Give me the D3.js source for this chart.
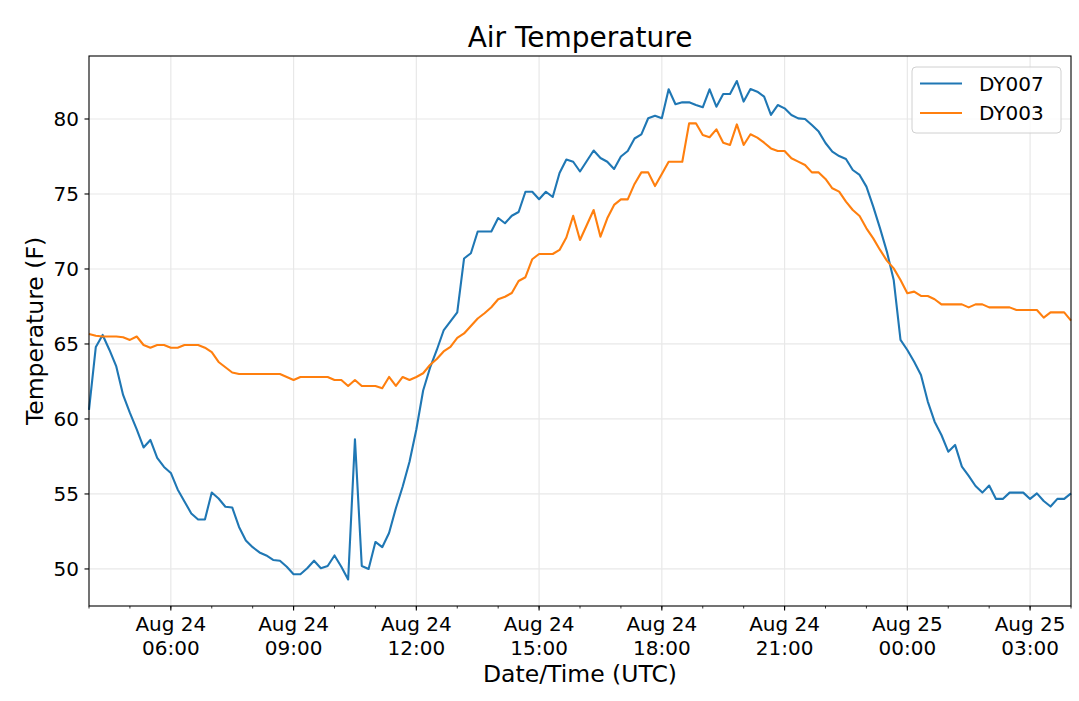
<!DOCTYPE html>
<html>
<head>
<meta charset="utf-8">
<script src="https://cdnjs.cloudflare.com/ajax/libs/d3/7.8.5/d3.min.js"></script>
<style>
  body { margin: 0; background: #fff; }
  svg { display: block; font-family: "DejaVu Sans", sans-serif; }
</style>
</head>
<body>
<svg id="chart" width="1079" height="701"></svg>
<script>
// readings every 10 minutes, starting Aug 24 04:00 UTC
const startTime = new Date(Date.UTC(2019, 7, 24, 4, 0));
const stepMinutes = 10;

const dy007 = [
  60.6, 64.8, 65.6, 64.6, 63.5, 61.6, 60.4, 59.3, 58.1, 58.6,
  57.4, 56.8, 56.4, 55.3, 54.5, 53.7, 53.3, 53.3, 55.1, 54.7,
  54.15, 54.1, 52.8, 51.9, 51.45, 51.1, 50.9, 50.6, 50.55, 50.15,
  49.65, 49.65, 50.05, 50.55, 50.05, 50.2, 50.9, 50.15, 49.3, 58.65,
  50.2, 50.0, 51.8, 51.45, 52.4, 54.05, 55.5, 57.15, 59.3, 61.9,
  63.4, 64.6, 65.9, 66.5, 67.1, 70.7, 71.05, 72.5, 72.5, 72.5,
  73.4, 73.05, 73.55, 73.8, 75.15, 75.15, 74.65, 75.15, 74.8, 76.4,
  77.3, 77.15, 76.5, 77.2, 77.9, 77.4, 77.15, 76.67, 77.5, 77.87,
  78.7, 78.98, 80.05, 80.22, 80.05, 81.98, 80.98, 81.11, 81.11, 80.93,
  80.78, 81.98, 80.82, 81.67, 81.67, 82.53, 81.16, 82.0, 81.82, 81.49,
  80.27, 80.93, 80.71, 80.27, 80.04, 80.0, 79.6, 79.16, 78.4, 77.82,
  77.53, 77.33, 76.6, 76.27, 75.49, 74.16, 72.71, 71.16, 69.27, 65.27,
  64.6, 63.82, 62.93, 61.16, 59.82, 58.93, 57.82, 58.27, 56.82, 56.2,
  55.53, 55.09, 55.56, 54.67, 54.67, 55.09, 55.09, 55.09, 54.67, 55.04,
  54.53, 54.16, 54.67, 54.67, 55.04
];

const dy003 = [
  65.67, 65.55, 65.5, 65.5, 65.5, 65.45, 65.27, 65.5, 64.93, 64.75,
  64.93, 64.93, 64.75, 64.75, 64.93, 64.93, 64.93, 64.75, 64.45, 63.8,
  63.45, 63.1, 63.0, 63.0, 63.0, 63.0, 63.0, 63.0, 63.0, 62.8,
  62.6, 62.8, 62.8, 62.8, 62.8, 62.8, 62.6, 62.6, 62.2, 62.6,
  62.2, 62.2, 62.2, 62.05, 62.8, 62.2, 62.8, 62.6, 62.8, 63.05,
  63.6, 64.0, 64.5, 64.8, 65.4, 65.7, 66.2, 66.7, 67.05, 67.45,
  67.98, 68.15, 68.4, 69.2, 69.45, 70.65, 71.0, 71.0, 71.0, 71.27,
  72.1, 73.55, 71.93, 72.93, 73.93, 72.15, 73.38, 74.27, 74.64, 74.64,
  75.67, 76.44, 76.44, 75.53, 76.33, 77.15, 77.15, 77.15, 79.71, 79.71,
  78.93, 78.78, 79.31, 78.42, 78.27, 79.64, 78.27, 78.98, 78.76, 78.42,
  78.04, 77.87, 77.87, 77.38, 77.16, 76.93, 76.44, 76.44, 76.0, 75.38,
  75.16, 74.49, 73.93, 73.53, 72.71, 72.04, 71.27, 70.56, 70.04, 69.27,
  68.38, 68.49, 68.2, 68.2, 67.98, 67.64, 67.64, 67.64, 67.64, 67.44,
  67.64, 67.64, 67.44, 67.44, 67.44, 67.44, 67.27, 67.27, 67.27, 67.27,
  66.76, 67.11, 67.11, 67.11, 66.56
];

const seriesNames = ["DY007", "DY003"];
const seriesColors = ["#1f77b4", "#ff7f0e"];
const yTicks = [50, 55, 60, 65, 70, 75, 80];

const times = dy007.map((d, i) => d3.utcMinute.offset(startTime, i * stepMinutes));

const margin = { top: 56, right: 8, bottom: 95, left: 89 };
const width = 1079, height = 701;
const svg = d3.select("#chart");

const x = d3.scaleUtc()
  .domain(d3.extent(times))
  .range([margin.left, width - margin.right]);

const y = d3.scaleLinear()
  .domain([47.53, 84.2])
  .range([height - margin.bottom, margin.top]);

const plotBottom = height - margin.bottom;
const plotRight = width - margin.right;

const majorTicks = x.ticks(d3.utcHour.every(3));
const minorTicks = x.ticks(d3.utcHour.every(1));

// grid
svg.append("g")
  .selectAll("line.vgrid")
  .data(majorTicks)
  .join("line")
  .attr("x1", d => x(d)).attr("x2", d => x(d))
  .attr("y1", margin.top).attr("y2", plotBottom)
  .attr("stroke", "#e8e8e8").attr("stroke-width", 1.2);

svg.append("g")
  .selectAll("line.hgrid")
  .data(yTicks)
  .join("line")
  .attr("x1", margin.left).attr("x2", plotRight)
  .attr("y1", d => y(d)).attr("y2", d => y(d))
  .attr("stroke", "#e8e8e8").attr("stroke-width", 1.2);

// lines
const line = d3.line()
  .x((d, i) => x(times[i]))
  .y(d => y(d));

[dy007, dy003].forEach((vals, k) => {
  svg.append("path")
    .datum(vals)
    .attr("fill", "none")
    .attr("stroke", seriesColors[k])
    .attr("stroke-width", 2.1)
    .attr("stroke-linejoin", "round")
    .attr("d", line);
});

// frame
svg.append("rect")
  .attr("x", margin.left).attr("y", margin.top)
  .attr("width", plotRight - margin.left)
  .attr("height", plotBottom - margin.top)
  .attr("fill", "none").attr("stroke", "#000").attr("stroke-width", 1.1);

// x axis, major ticks with two-line labels
const fmtDay = d3.utcFormat("%b %d");
const fmtTime = d3.utcFormat("%H:%M");

svg.append("g")
  .selectAll("line")
  .data(minorTicks)
  .join("line")
  .attr("x1", d => x(d)).attr("x2", d => x(d))
  .attr("y1", plotBottom).attr("y2", plotBottom + 2.5)
  .attr("stroke", "#000").attr("stroke-width", 0.8);

const xt = svg.append("g")
  .selectAll("g")
  .data(majorTicks)
  .join("g")
  .attr("transform", d => `translate(${x(d)},${plotBottom})`);

xt.append("line").attr("y2", 4.5).attr("stroke", "#000").attr("stroke-width", 1.1);
xt.append("text")
  .attr("y", 25).attr("text-anchor", "middle")
  .attr("font-size", 20).attr("fill", "#000")
  .text(d => fmtDay(d));
xt.append("text")
  .attr("y", 48.5).attr("text-anchor", "middle")
  .attr("font-size", 20).attr("fill", "#000")
  .text(d => fmtTime(d));

// y axis
const yt = svg.append("g")
  .selectAll("g")
  .data(yTicks)
  .join("g")
  .attr("transform", d => `translate(${margin.left},${y(d)})`);

yt.append("line").attr("x2", -4.5).attr("stroke", "#000").attr("stroke-width", 1.1);
yt.append("text")
  .attr("x", -10).attr("dy", "0.35em").attr("text-anchor", "end")
  .attr("font-size", 20).attr("fill", "#000")
  .text(d => d);

// titles
svg.append("text")
  .attr("x", (margin.left + plotRight) / 2).attr("y", 47)
  .attr("text-anchor", "middle").attr("font-size", 28)
  .text("Air Temperature");

svg.append("text")
  .attr("x", (margin.left + plotRight) / 2).attr("y", 682)
  .attr("text-anchor", "middle").attr("font-size", 23.5)
  .text("Date/Time (UTC)");

svg.append("text")
  .attr("transform", `translate(43,${(margin.top + plotBottom) / 2}) rotate(-90)`)
  .attr("text-anchor", "middle").attr("font-size", 23.5)
  .text("Temperature (F)");

// legend
const legend = svg.append("g").attr("transform", "translate(912,67)");
legend.append("rect")
  .attr("width", 149).attr("height", 66).attr("rx", 4)
  .attr("fill", "#fff").attr("fill-opacity", 0.8)
  .attr("stroke", "#d0d0d0").attr("stroke-width", 1);

seriesNames.forEach((name, k) => {
  const ly = 16.5 + k * 29.5;
  legend.append("line")
    .attr("x1", 8).attr("x2", 50).attr("y1", ly).attr("y2", ly)
    .attr("stroke", seriesColors[k]).attr("stroke-width", 2.1);
  legend.append("text")
    .attr("x", 67).attr("y", ly).attr("dy", "0.35em")
    .attr("font-size", 20).text(name);
});
</script>
</body>
</html>
